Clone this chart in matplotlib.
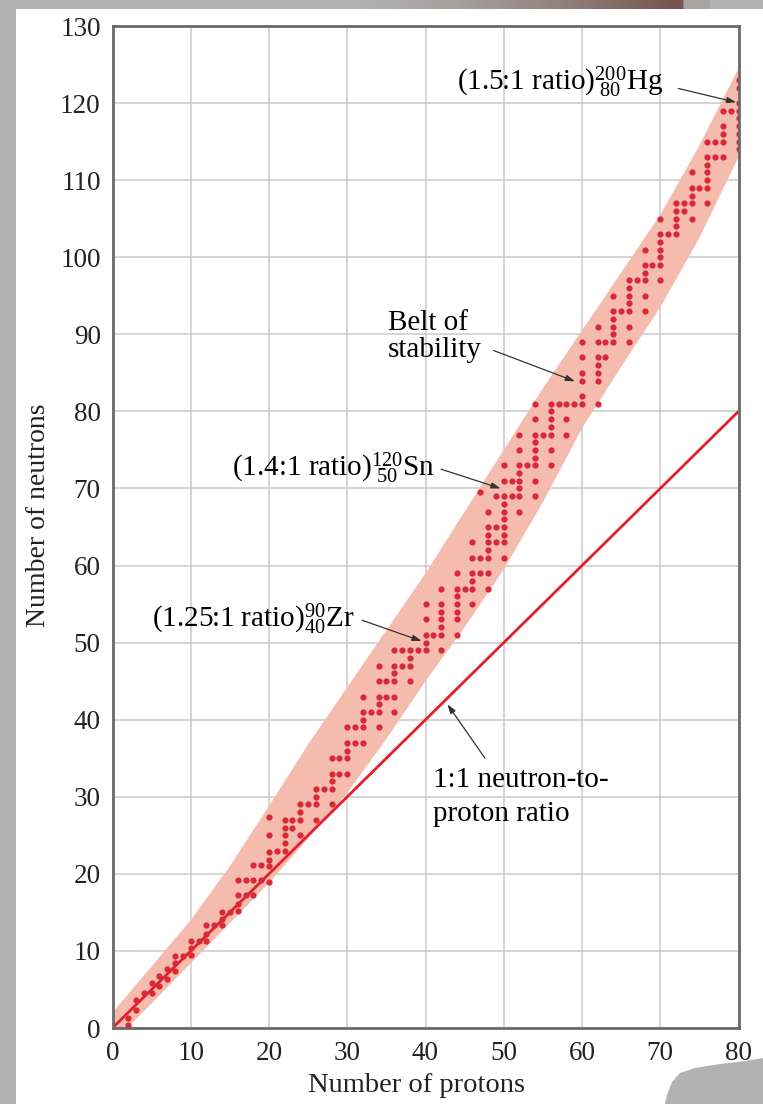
import matplotlib
matplotlib.use("Agg")
import matplotlib.pyplot as plt
from matplotlib.patches import Rectangle, Polygon
import numpy as np

plt.rcParams['font.family'] = ['Liberation Serif', 'DejaVu Serif']
plt.rcParams['mathtext.fontset'] = 'custom'
plt.rcParams['mathtext.rm'] = 'Liberation Serif'
plt.rcParams['mathtext.it'] = 'Liberation Serif:italic'
plt.rcParams['mathtext.bf'] = 'Liberation Serif:bold'

# ---------------- data ----------------
# stable nuclides as drawn: (protons, [neutrons ...])
nuclides_light = [
    (1, [-0.2]), (2, [0.4, 1.3]), (3, [2.4, 3.6]), (4, [4.6]), (5, [4.6, 5.9]),
    (6, [5.5, 6.8]), (7, [6.4, 7.6]), (8, [7.4, 8.4, 9.4]), (9, [9.4]),
    (10, [9.5, 10.4, 11.3]), (11, [11.3]), (12, [11.3, 12.2, 13.3]), (13, [13.3]),
    (14, [13.3, 14.2, 15.1]), (15, [15.1]), (16, [15.2, 16.1, 17.3, 19.2]),
    (17, [17.2, 19.2]), (18, [17.2, 19.2, 21.2]), (19, [19.2, 21.2]),
    (20, [19.0, 21.0, 21.8, 22.8, 25.0, 27.4]),
]
nuclides_medium = [
    (21, [23]), (22, [23, 24, 25, 26, 27]), (23, [26, 27]), (24, [25, 27, 28, 29]),
    (25, [29]), (26, [27, 29, 30, 31]), (27, [31]), (28, [29, 31, 32, 33, 35]),
    (29, [33, 35]), (30, [33, 35, 36, 37, 39]), (31, [37, 39]),
    (32, [37, 39, 40, 41, 43]), (33, [41]), (34, [39, 41, 42, 43, 45, 47]),
    (35, [43, 45]), (36, [41, 43, 45, 46, 47, 49]), (37, [47, 49]),
    (38, [45, 47, 48, 49]), (39, [49]), (40, [49, 50, 51, 53, 55]), (41, [51]),
    (42, [49, 51, 52, 53, 54, 55, 57]), (44, [51, 53, 54, 55, 56, 57, 59]),
    (45, [57]), (46, [55, 57, 58, 59, 61, 63]), (47, [59, 61, 69.5]),
    (48, [57, 59, 61, 62, 63, 64, 65, 67]), (49, [63, 65, 69]),
    (50, [61, 63, 64, 65, 66, 67, 68, 69, 71, 73]),
]
nuclides_heavy = [
    (51, [69, 71]), (52, [67, 69, 70, 71, 72, 73, 75, 77]), (53, [73]),
    (54, [69, 71, 73, 74, 75, 76, 77, 79, 81]), (55, [77]),
    (56, [73, 75, 77, 78, 79, 80, 81]), (57, [81]), (58, [77, 79, 81]), (59, [81]),
    (60, [81, 82, 84, 85, 87, 89]), (62, [81, 84, 85, 86, 87, 89, 91]),
    (63, [87, 89]), (64, [89, 90, 91, 92, 93, 95]), (65, [93]),
    (66, [89, 91, 93, 94, 95, 96, 97]), (67, [97]), (68, [93, 95, 97, 98, 99, 101]),
    (69, [99]), (70, [97, 99, 100, 101, 102, 103, 105]), (71, [103]),
    (72, [103, 104, 105, 106, 107]), (73, [106, 107]), (74, [105, 107, 108, 109, 111]),
    (75, [109]), (76, [107, 109, 110, 111, 112, 113, 115]), (77, [113, 115]),
    (78, [113, 115, 116, 117, 119]), (79, [119]),
    (80, [114, 115, 116, 117, 118, 119, 120, 122, 123]),
]

# belt of stability outline (protons, neutrons)
belt_Z = [0, 5, 10, 15, 20, 25, 30, 35, 40, 45, 50, 55, 60, 65, 70, 75, 80]
belt_upper = [2.0, 8.0, 14.0, 21.0, 28.8, 36.8, 44.2, 51.6, 59.0, 67.0, 75.0,
              83.0, 90.5, 98.0, 105.5, 114.5, 124.5]
belt_lower = [-2.0, 3.2, 8.4, 13.6, 18.8, 24.6, 30.5, 37.5, 45.0, 52.0, 59.5,
              68.2, 77.8, 85.8, 93.5, 102.5, 113.0]

# 1:1 line
line_Z = [0, 80]
line_N = [0, 80]

x_ticks = list(range(0, 81, 10))
y_ticks = list(range(0, 131, 10))

# ---------------- figure ----------------
W, H = 763, 1104
fig = plt.figure(figsize=(W / 100, H / 100), dpi=100)
fig.patch.set_facecolor('#B2B2B2')

def fx(px):
    return px / W

def fy(py):
    return 1 - py / H

fig.add_artist(Rectangle((fx(16), 0), 1 - fx(16), fy(9), transform=fig.transFigure,
                         facecolor='white', edgecolor='none', zorder=-5))
# brownish shading on the top strip
grad_ax = fig.add_axes([fx(330), fy(9), fx(380), 9 / H])
g = np.linspace(0, 1, 200)
c0 = np.array([178, 178, 178]) / 255
c1 = np.array([118, 86, 76]) / 255
w = np.clip(g / 0.9, 0, 1) ** 1.6
w[g > 0.93] = 0.15
img = (c0[None, :] * (1 - w[:, None]) + c1[None, :] * w[:, None])[None, :, :]
grad_ax.imshow(img, aspect='auto', extent=[0, 1, 0, 1])
grad_ax.axis('off')
# grey blob at bottom right
blob = [(665, 1104), (667, 1095), (672, 1082), (680, 1073), (695, 1068), (720, 1064),
        (745, 1061), (763, 1058), (763, 1104)]
fig.add_artist(Polygon([(fx(a), fy(b)) for a, b in blob], closed=True, transform=fig.transFigure,
                       facecolor='#B2B2B2', edgecolor='none', zorder=20))

ax = fig.add_axes([fx(112.5), fy(1028), fx(738.5) - fx(112.5), fy(26) - fy(1028)])
ax.set_xlim(0, 80)
ax.set_ylim(0, 130)
ax.set_xticks(x_ticks)
ax.set_yticks(y_ticks)
ax.grid(True, color='#CACACA', lw=1.1, zorder=0)
ax.set_axisbelow(True)
ax.tick_params(length=0, labelsize=19.5, colors='#222222')
ax.tick_params(axis='x', pad=9.5)
ax.tick_params(axis='y', pad=8.5)
for s in ax.spines.values():
    s.set_color('#6A6A6A')
    s.set_linewidth(2.0)
    s.set_zorder(6)

# belt
poly = list(zip(belt_Z, belt_upper)) + list(zip(belt_Z[::-1], belt_lower[::-1]))
ax.add_patch(Polygon(poly, closed=True, facecolor='#F5BCAE', edgecolor='none', zorder=1))

# 1:1 line
ax.plot(line_Z, line_N, color='#E21F2B', lw=2.0, zorder=3, solid_capstyle='butt')

# dots
allZ, allN = [], []
for group in (nuclides_light, nuclides_medium, nuclides_heavy):
    for z, ns in group:
        for n in ns:
            allZ.append(z)
            allN.append(n)
ax.plot(allZ, allN, 'o', ms=4.5, color='#D9283A', mec='none', zorder=4)

# annotations
arrow_kw = dict(arrowstyle='-|>,head_length=0.55,head_width=0.18', color='#333333', lw=0.9,
                shrinkA=0, shrinkB=0)
fs = 21
ax.text(44.0, 121.7, r'(1.5:1 ratio)$^{200}_{\ 80}$Hg', fontsize=fs, ha='left', va='baseline', zorder=7)
ax.annotate('', xy=(79.7, 120.1), xytext=(72.3, 121.9), arrowprops=arrow_kw, zorder=7)

ax.text(35.2, 90.5, 'Belt of', fontsize=fs, ha='left', va='baseline', zorder=7)
ax.text(35.2, 87.0, 'stability', fontsize=fs, ha='left', va='baseline', zorder=7)
ax.annotate('', xy=(59.1, 83.9), xytext=(48.7, 87.9), arrowprops=arrow_kw, zorder=7)

ax.text(15.3, 71.6, r'(1.4:1 ratio)$^{120}_{\ 50}$Sn', fontsize=fs, ha='left', va='baseline', zorder=7)
ax.annotate('', xy=(49.6, 70.0), xytext=(42.0, 72.5), arrowprops=arrow_kw, zorder=7)

ax.text(5.05, 52.0, r'(1.25:1 ratio)$^{90}_{40}$Zr', fontsize=fs, ha='left', va='baseline', zorder=7)
ax.annotate('', xy=(39.5, 50.2), xytext=(31.9, 52.9), arrowprops=arrow_kw, zorder=7)

ax.text(41.0, 31.3, '1:1 neutron-to-', fontsize=fs, ha='left', va='baseline', zorder=7)
ax.text(41.0, 26.8, 'proton ratio', fontsize=fs, ha='left', va='baseline', zorder=7)
ax.annotate('', xy=(42.8, 42.0), xytext=(47.6, 35.0), arrowprops=arrow_kw, zorder=7)

fig.text(fx(39), fy(515), 'Number of neutrons', rotation=90, fontsize=20,
         ha='center', va='center', color='#222222')
fig.text(fx(416), fy(1092), 'Number of protons', fontsize=20.5,
         ha='center', va='baseline', color='#222222')

fig.savefig('out.png', dpi=100, facecolor=fig.get_facecolor())
